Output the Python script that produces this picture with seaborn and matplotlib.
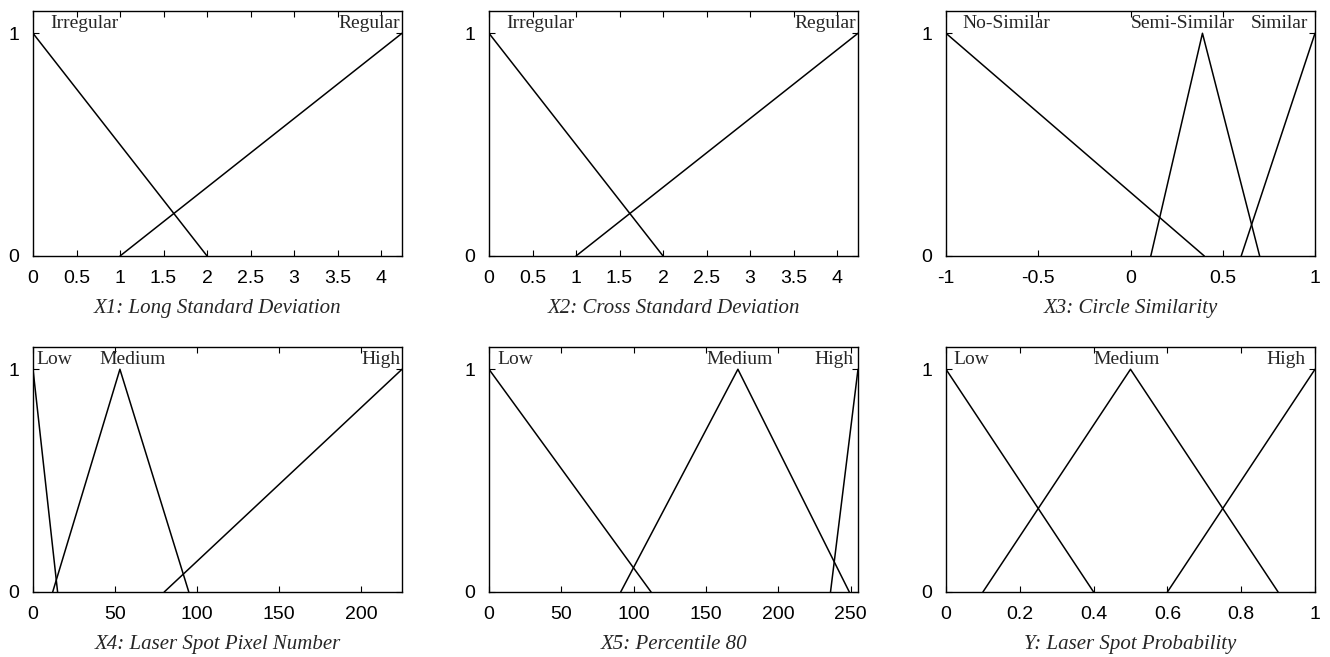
import matplotlib
matplotlib.use("Agg")
import matplotlib.pyplot as plt
import seaborn as sns

# membership functions: breakpoints (x) and grades (y) per fuzzy set
x1_sets = ["Irregular", "Regular"]
x1_xs = [[0, 2], [1, 4.24]]
x1_ys = [[1, 0], [0, 1]]

x2_sets = ["Irregular", "Regular"]
x2_xs = [[0, 2], [1, 4.24]]
x2_ys = [[1, 0], [0, 1]]

x3_sets = ["No-Similar", "Semi-Similar", "Similar"]
x3_xs = [[-1, 0.4], [0.11, 0.39, 0.7], [0.6, 1]]
x3_ys = [[1, 0], [0, 1, 0], [0, 1]]

x4_sets = ["Low", "Medium", "High"]
x4_xs = [[0, 15], [12, 53, 95], [80, 225]]
x4_ys = [[1, 0], [0, 1, 0], [0, 1]]

x5_sets = ["Low", "Medium", "High"]
x5_xs = [[0, 112], [91, 172, 249], [236, 255]]
x5_ys = [[1, 0], [0, 1, 0], [0, 1]]

y_sets = ["Low", "Medium", "High"]
y_xs = [[0, 0.4], [0.1, 0.5, 0.9], [0.6, 1]]
y_ys = [[1, 0], [0, 1, 0], [0, 1]]

titles = ["X1: Long Standard Deviation", "X2: Cross Standard Deviation",
          "X3: Circle Similarity", "X4: Laser Spot Pixel Number",
          "X5: Percentile 80", "Y: Laser Spot Probability"]
x_ticks = [[0, 0.5, 1, 1.5, 2, 2.5, 3, 3.5, 4],
           [0, 0.5, 1, 1.5, 2, 2.5, 3, 3.5, 4],
           [-1, -0.5, 0, 0.5, 1],
           [0, 50, 100, 150, 200],
           [0, 50, 100, 150, 200, 250],
           [0, 0.2, 0.4, 0.6, 0.8, 1]]
x_ticklabels = [["0", "0.5", "1", "1.5", "2", "2.5", "3", "3.5", "4"],
                ["0", "0.5", "1", "1.5", "2", "2.5", "3", "3.5", "4"],
                ["-1", "-0.5", "0", "0.5", "1"],
                ["0", "50", "100", "150", "200"],
                ["0", "50", "100", "150", "200", "250"],
                ["0", "0.2", "0.4", "0.6", "0.8", "1"]]
x_limits = [(0, 4.24), (0, 4.24), (-1, 1), (0, 225), (0, 255), (0, 1)]

panels = [
    (x1_sets, x1_xs, x1_ys),
    (x2_sets, x2_xs, x2_ys),
    (x3_sets, x3_xs, x3_ys),
    (x4_sets, x4_xs, x4_ys),
    (x5_sets, x5_xs, x5_ys),
    (y_sets, y_xs, y_ys),
]

# set-name label placement (x in data units, alignment)
label_pos = [
    [(0.2, "left"), (4.22, "right")],
    [(0.2, "left"), (4.22, "right")],
    [(-0.91, "left"), (0.283, "center"), (0.962, "right")],
    [(2, "left"), (60.5, "center"), (224, "right")],
    [(5.5, "left"), (173, "center"), (251.6, "right")],
    [(0.021, "left"), (0.49, "center"), (0.975, "right")],
]

sns.set_theme(style="ticks")
plt.rcParams["font.family"] = ["Liberation Sans", "DejaVu Sans"]

fig = plt.figure(figsize=(13.3, 6.57), dpi=100)
lefts = [33 / 1330, 489 / 1330, 946 / 1330]
width = 369 / 1330
bottoms = [1 - 256 / 657, 1 - 592 / 657]
height = 245 / 657

for i, (sets, xs, ys) in enumerate(panels):
    r, c = divmod(i, 3)
    ax = fig.add_axes([lefts[c], bottoms[r], width, height])
    for name, px, py in zip(sets, xs, ys):
        sns.lineplot(x=px, y=py, color="black", linewidth=1.1, ax=ax,
                     sort=False, estimator=None)
    for name, (lx, ha) in zip(sets, label_pos[i]):
        ax.text(lx, 1.022, name, ha=ha, va="baseline", fontsize=14,
                family=["Liberation Serif"])
    ax.set_xlim(*x_limits[i])
    ax.set_ylim(0, 1.1)
    ax.set_xticks(x_ticks[i])
    ax.set_xticklabels(x_ticklabels[i])
    ax.set_yticks([0, 1])
    ax.set_yticklabels(["0", "1"])
    ax.tick_params(direction="in", length=4, width=0.8, top=True, right=True,
                   labelsize=14, colors="black")
    ax.tick_params(axis="x", pad=10)
    ax.tick_params(axis="y", pad=10)
    ax.set_xlabel(titles[i], fontsize=15, family=["Liberation Serif"],
                  style="italic", labelpad=9)
    ax.set_ylabel("")
    for s in ax.spines.values():
        s.set_visible(True)
        s.set_linewidth(1.0)
        s.set_color("black")

fig.savefig("out.png", dpi=100, facecolor="white")
